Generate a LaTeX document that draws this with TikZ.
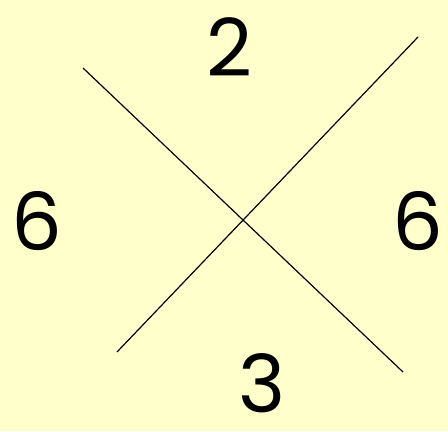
\documentclass[tikz,border=0pt]{standalone}
\usepackage{fontspec}
\setmainfont{Poppins}
\definecolor{paper}{HTML}{FFFFCC}
\tikzset{num/.style={inner sep=0pt,text height=43pt,text depth=0pt,font=\fontsize{60}{62}\selectfont}}
\begin{document}
\begin{tikzpicture}[x=0.75pt,y=-0.75pt]
\fill[paper] (0,0) rectangle (448,431);
\useasboundingbox (0,0) rectangle (448,431);
\coordinate (a1) at (83,68);
\coordinate (a2) at (403,372);
\coordinate (b1) at (117,352);
\coordinate (b2) at (418,37);
\draw[line width=0.9pt] (a1) -- (a2);
\draw[line width=0.9pt] (b1) -- (b2);
\node[num] (top) at (229,48) {2};
\node[num] (left) at (37,222) {6};
\node[num] (right) at (418,222) {6};
\node[num] (bottom) at (262,384) {3};
\end{tikzpicture}
\end{document}
